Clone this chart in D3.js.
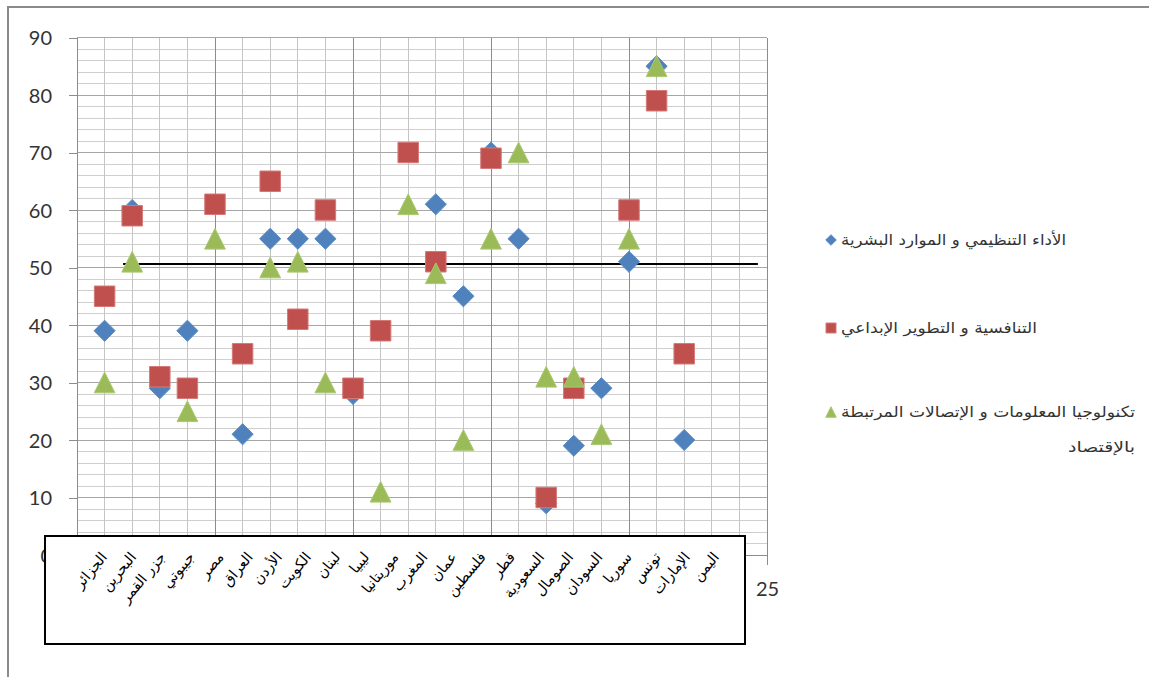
<!DOCTYPE html>
<html>
<head>
<meta charset="utf-8">
<script src="https://cdn.jsdelivr.net/npm/d3@7"></script>
<style>
  html, body { margin: 0; padding: 0; background: #fff; }
  svg { display: block; }
</style>
</head>
<body>
<svg id="chart" width="1149" height="677"></svg>
<script>
// Arab countries, one per x position 1..22
const countries = ["الجزائر", "البحرين", "جزر القمر", "جيبوتي", "مصر", "العراق", "الأردن", "الكويت",
  "لبنان", "ليبيا", "موريتانيا", "المغرب", "عمان", "فلسطين", "قطر", "السعودية", "الصومال",
  "السودان", "سوريا", "تونس", "الإمارات", "اليمن"];
const positions = [1, 2, 3, 4, 5, 6, 7, 8, 9, 10, 11, 12, 13, 14, 15, 16, 17, 18, 19, 20, 21, 22];

// Series scores (null = no point)
const orgPerformance = [39, 60, 29, 39, null, 21, 55, 55, 55, 28, null, null, 61, 45, 70, 55, 9, 19, 29, 51, 85, 20];
const competitiveness = [45, 59, 31, 29, 61, 35, 65, 41, 60, 29, 39, 70, 51, null, 69, null, 10, 29, null, 60, 79, 35];
const ictEconomy = [30, 51, null, 25, 55, null, 50, 51, 30, null, 11, 61, 49, 20, 55, 70, 31, 31, 21, 55, 85, null];

const seriesNames = [
  ["الأداء التنظيمي و الموارد البشرية"],
  ["التنافسية و التطوير الإبداعي"],
  ["تكنولوجيا المعلومات و الإتصالات المرتبطة", "بالإقتصاد"]
];
// rendered widths of the legend text lines
const legendWidths = [[225], [196], [294, 67]];

const yTicks = [0, 10, 20, 30, 40, 50, 60, 70, 80, 90];
const xTicks = [0, 5, 10, 15, 20, 25];

// Average reference line: level and horizontal extent (x units)
const refLevel = 50.6;
const refFrom = 1.67, refTo = 24.67;

const svg = d3.select("#chart");
const arabicFont = "'DejaVu Sans', sans-serif";
const numFont = "Lato, 'Open Sans', sans-serif";

svg.append("rect").attr("width", 1149).attr("height", 677).attr("fill", "#fff");

// chart area border (top and left edges visible)
svg.append("path").attr("d", "M8,677V7H1149").attr("fill", "none")
  .attr("stroke", "#8a8a8a").attr("stroke-width", 2);

const x = d3.scaleLinear().domain([0, 25]).range([77, 767]);
const y = d3.scaleLinear().domain([0, 90]).range([555, 37.5]);

const grid = svg.append("g").attr("shape-rendering", "crispEdges");
// horizontal minor grid every 2
grid.selectAll(".hmin").data(d3.range(2, 90, 2).filter(v => v % 10 !== 0)).join("line")
  .attr("x1", x(0)).attr("x2", x(25)).attr("y1", d => y(d)).attr("y2", d => y(d))
  .attr("stroke", "#cfcfcf");
// vertical minor grid every 1
grid.selectAll(".vmin").data(d3.range(1, 25).filter(v => v % 5 !== 0)).join("line")
  .attr("y1", y(0)).attr("y2", y(90)).attr("x1", d => x(d)).attr("x2", d => x(d))
  .attr("stroke", "#c4c4c4");
// horizontal major grid
grid.selectAll(".hmaj").data(yTicks.slice(1)).join("line")
  .attr("x1", x(0)).attr("x2", x(25)).attr("y1", d => y(d)).attr("y2", d => y(d))
  .attr("stroke", "#a6a6a6");
// vertical major grid
grid.selectAll(".vmaj").data(xTicks.slice(1)).join("line")
  .attr("y1", y(0)).attr("y2", y(90)).attr("x1", d => x(d)).attr("x2", d => x(d))
  .attr("stroke", "#8c8c8c");

// axes
const yAxis = svg.append("g").attr("transform", `translate(${x(0)},0)`)
  .call(d3.axisLeft(y).tickValues(yTicks).tickSize(8).tickPadding(17).tickSizeOuter(0));
const xAxis = svg.append("g").attr("transform", `translate(0,${y(0)})`)
  .call(d3.axisBottom(x).tickValues(xTicks).tickSize(10).tickPadding(17).tickSizeOuter(0));
[yAxis, xAxis].forEach(a => {
  a.attr("shape-rendering", "crispEdges");
  a.selectAll("path,line").attr("stroke", "#8c8c8c");
  a.selectAll("text").attr("font-family", numFont).attr("font-size", 20).attr("fill", "#333");
});
yAxis.selectAll("text").attr("dy", "0.35em");

// reference line
svg.append("line")
  .attr("x1", x(refFrom)).attr("x2", x(refTo))
  .attr("y1", y(refLevel)).attr("y2", y(refLevel))
  .attr("stroke", "#000").attr("stroke-width", 2);

// marker shapes
const diamond = { draw(ctx, size) { const r = Math.sqrt(size) / 2 * Math.SQRT2;
  ctx.moveTo(0, -r); ctx.lineTo(r, 0); ctx.lineTo(0, r); ctx.lineTo(-r, 0); ctx.closePath(); } };
const square = { draw(ctx, size) { const r = Math.sqrt(size) / 2;
  ctx.moveTo(-r, -r); ctx.lineTo(r, -r); ctx.lineTo(r, r); ctx.lineTo(-r, r); ctx.closePath(); } };
const triangle = { draw(ctx, size) { const r = Math.sqrt(size) / 2;
  ctx.moveTo(0, -r); ctx.lineTo(r, r); ctx.lineTo(-r, r); ctx.closePath(); } };

const series = [
  { values: orgPerformance, color: "#4F81BD", stroke: "#5b8cc6", type: diamond, size: 225, legendSize: 56 },
  { values: competitiveness, color: "#C0504D", stroke: "#d57a78", type: square, size: 420, legendSize: 100 },
  { values: ictEconomy, color: "#9BBB59", stroke: "#a9c870", type: triangle, size: 430, legendSize: 110 }
];

series.forEach(s => {
  const pts = positions.map((p, i) => ({ x: p, v: s.values[i] })).filter(d => d.v !== null);
  svg.append("g").selectAll("path").data(pts).join("path")
    .attr("d", d3.symbol().type(s.type).size(s.size))
    .attr("transform", d => `translate(${x(d.x)},${y(d.v)})`)
    .attr("fill", s.color).attr("stroke", s.stroke).attr("stroke-width", 1);
});

// category label box
svg.append("rect").attr("x", 45).attr("y", 536).attr("width", 700).attr("height", 108)
  .attr("fill", "#fff").attr("stroke", "#000").attr("stroke-width", 2);

const labelX = d3.scalePoint().domain(countries).range([99, 711]);
svg.append("g").selectAll("text").data(countries).join("text")
  .attr("transform", d => `translate(${labelX(d)},550) rotate(-50)`)
  .attr("text-anchor", "end").attr("dy", "0.8em")
  .attr("font-family", arabicFont).attr("font-size", 14.5).attr("fill", "#000")
  .text(d => d);

// legend
const legendY = [240, 328, 412];
const legend = svg.append("g");
series.forEach((s, i) => {
  legend.append("path")
    .attr("d", d3.symbol().type(s.type).size(s.legendSize))
    .attr("transform", `translate(831,${legendY[i]})`)
    .attr("fill", s.color).attr("stroke", s.stroke);
  const lines = seriesNames[i];
  const w = legendWidths[i];
  legend.append("text").attr("x", 841).attr("y", legendY[i]).attr("dy", "0.35em")
    .attr("font-family", arabicFont).attr("font-size", 15).attr("fill", "#333")
    .attr("textLength", w[0]).attr("lengthAdjust", "spacingAndGlyphs")
    .text(lines[0]);
  if (lines.length > 1) {
    legend.append("text").attr("x", 841 + w[0]).attr("y", legendY[i] + 35).attr("dy", "0.35em")
      .attr("text-anchor", "end")
      .attr("font-family", arabicFont).attr("font-size", 15).attr("fill", "#333")
      .attr("textLength", w[1]).attr("lengthAdjust", "spacingAndGlyphs")
      .text(lines[1]);
  }
});
</script>
</body>
</html>
